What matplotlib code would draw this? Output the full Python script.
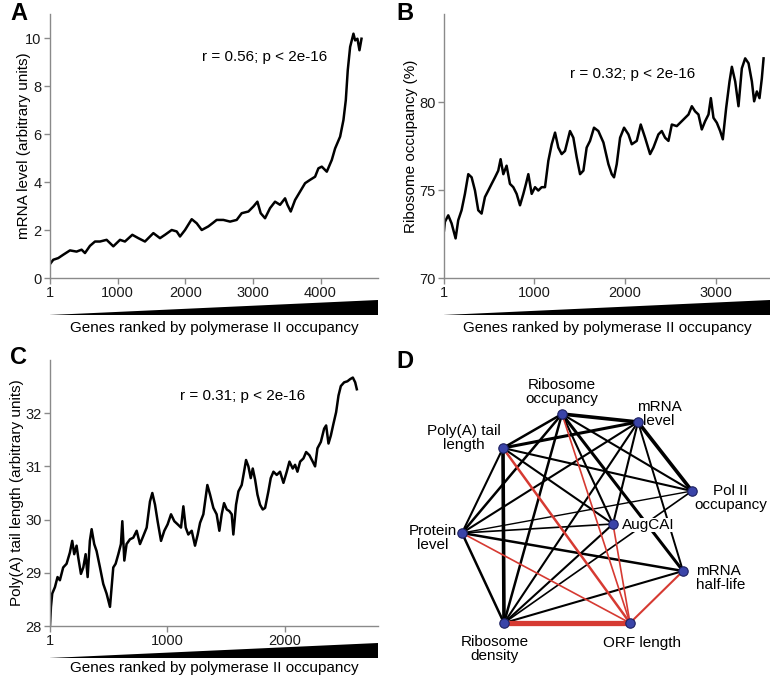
import matplotlib
matplotlib.use("Agg")
import matplotlib.pyplot as plt

plt.rcParams['font.family'] = ['Liberation Sans', 'DejaVu Sans']

# ---- data ----
# A: mRNA level vs genes ranked by Pol II occupancy
a_rank = [1, 49, 123, 197, 296, 394, 468, 518, 592, 666, 740, 838, 937, 1036, 1109,
          1218, 1307, 1405, 1529, 1627, 1701, 1800, 1874, 1923, 1997, 2096, 2170,
          2244, 2342, 2416, 2465, 2564, 2663, 2761, 2835, 2934, 3008, 3067, 3116,
          3180, 3254, 3328, 3402, 3476, 3511, 3560, 3624, 3698, 3772, 3846, 3920,
          3969, 4019, 4093, 4167, 4216, 4290, 4339, 4374, 4403, 4438, 4487, 4512,
          4546, 4576, 4606]
a_mrna = [0.58, 0.76, 0.83, 0.97, 1.15, 1.10, 1.18, 1.04, 1.34, 1.52, 1.52, 1.59, 1.32,
          1.59, 1.52, 1.80, 1.66, 1.52, 1.87, 1.66, 1.80, 2.00, 1.94, 1.73, 2.00, 2.45,
          2.28, 2.00, 2.15, 2.31, 2.42, 2.42, 2.35, 2.42, 2.70, 2.77, 2.98, 3.18, 2.70,
          2.49, 2.91, 3.18, 3.05, 3.32, 3.05, 2.77, 3.25, 3.60, 3.95, 4.09, 4.22, 4.57,
          4.64, 4.43, 4.92, 5.40, 5.89, 6.58, 7.41, 8.66, 9.63, 10.18, 9.90, 9.97,
          9.49, 9.97]

# B: ribosome occupancy (%)
b_rank = [1, 11, 48, 85, 129, 158, 195, 232, 269, 306, 343, 379, 416, 453, 490, 527,
          564, 600, 626, 656, 692, 729, 766, 803, 840, 877, 906, 932, 969, 1006, 1042,
          1079, 1116, 1153, 1190, 1227, 1263, 1300, 1337, 1392, 1429, 1466, 1503, 1540,
          1576, 1613, 1657, 1705, 1761, 1816, 1853, 1878, 1908, 1945, 1989, 2037, 2074,
          2129, 2173, 2221, 2276, 2313, 2368, 2405, 2442, 2479, 2516, 2571, 2626, 2663,
          2700, 2737, 2773, 2810, 2847, 2884, 2921, 2947, 2976, 3013, 3050, 3079, 3116,
          3153, 3179, 3216, 3252, 3289, 3326, 3363, 3400, 3425, 3455, 3484, 3510, 3529]
b_occ = [72.7, 73.19, 73.56, 73.10, 72.25, 73.28, 73.85, 74.78, 75.90, 75.72, 74.97,
         73.85, 73.66, 74.60, 74.97, 75.35, 75.72, 76.10, 76.75, 75.90, 76.38, 75.35,
         75.16, 74.78, 74.13, 74.78, 75.35, 75.90, 74.78, 75.16, 74.97, 75.16, 75.16,
         76.66, 77.60, 78.26, 77.41, 77.04, 77.22, 78.35, 77.97, 76.85, 75.90, 76.10,
         77.41, 77.79, 78.54, 78.35, 77.70, 76.47, 75.90, 75.72, 76.47, 77.97, 78.54,
         78.16, 77.60, 77.79, 78.72, 77.97, 77.04, 77.41, 78.16, 78.35, 77.97, 77.79,
         78.72, 78.63, 78.91, 79.10, 79.29, 79.76, 79.47, 79.29, 78.44, 78.91, 79.29,
         80.22, 79.10, 78.82, 78.35, 77.88, 79.66, 81.16, 82.00, 81.16, 79.76, 81.91,
         82.48, 82.20, 81.16, 80.04, 80.60, 80.22, 81.35, 82.48]

# C: poly(A) tail length
c_rank = [1, 9, 20, 43, 65, 85, 113, 142, 170, 190, 207, 227, 241, 264, 284, 304, 321,
          340, 355, 377, 397, 426, 454, 482, 511, 525, 539, 559, 582, 604, 616, 633,
          652, 681, 709, 738, 766, 794, 823, 851, 871, 894, 916, 945, 973, 1001, 1030,
          1058, 1087, 1115, 1135, 1155, 1177, 1206, 1234, 1257, 1277, 1305, 1339, 1362,
          1390, 1418, 1441, 1461, 1481, 1504, 1526, 1546, 1560, 1583, 1603, 1631, 1651,
          1668, 1688, 1708, 1725, 1745, 1765, 1787, 1810, 1830, 1858, 1878, 1901, 1929,
          1957, 1986, 2014, 2037, 2065, 2085, 2105, 2128, 2156, 2179, 2207, 2235, 2255,
          2275, 2304, 2332, 2349, 2369, 2389, 2411, 2434, 2454, 2474, 2502, 2530, 2553,
          2576, 2596, 2610]
c_tail = [28.02, 28.36, 28.61, 28.73, 28.92, 28.86, 29.10, 29.17, 29.38, 29.60, 29.35,
          29.51, 29.29, 28.98, 29.10, 29.35, 28.92, 29.60, 29.82, 29.54, 29.41, 29.10,
          28.79, 28.61, 28.36, 28.73, 29.10, 29.17, 29.35, 29.54, 29.97, 29.23, 29.54,
          29.63, 29.66, 29.79, 29.54, 29.69, 29.85, 30.34, 30.50, 30.28, 29.97, 29.60,
          29.79, 29.91, 30.10, 29.97, 29.91, 29.85, 30.25, 29.85, 29.72, 29.79, 29.51,
          29.72, 29.94, 30.10, 30.65, 30.47, 30.22, 30.10, 29.79, 30.10, 30.31, 30.19,
          30.16, 30.10, 29.72, 30.28, 30.53, 30.65, 30.90, 31.12, 31.00, 30.78, 30.96,
          30.75, 30.47, 30.28, 30.19, 30.22, 30.53, 30.78, 30.90, 30.84, 30.90, 30.69,
          30.90, 31.09, 30.96, 31.03, 30.90, 31.09, 31.15, 31.27, 31.21, 31.09, 31.00,
          31.34, 31.46, 31.71, 31.77, 31.43, 31.58, 31.80, 32.02, 32.33, 32.51, 32.58,
          32.60, 32.64, 32.67, 32.58, 32.45]

# D: correlation network
node_names = ['RO', 'ML', 'PA', 'P2', 'AC', 'PL', 'HL', 'RD', 'OL']
node_x = [562, 638, 503, 692, 613, 462, 683, 504, 630]
node_y = [414, 422, 448, 491, 524, 533, 571, 623, 623]
edges_pos = [('RO', 'ML', 2.6), ('RO', 'PA', 1.8), ('RO', 'PL', 1.8), ('RO', 'RD', 1.8),
             ('RO', 'P2', 1.5), ('RO', 'HL', 2.2), ('RO', 'AC', 1.5), ('ML', 'PA', 2.2),
             ('ML', 'P2', 2.6), ('ML', 'HL', 1.4), ('ML', 'PL', 1.5), ('ML', 'RD', 1.5),
             ('ML', 'AC', 1.5), ('PA', 'P2', 1.5), ('PA', 'PL', 1.5), ('PA', 'RD', 2.6),
             ('PA', 'AC', 1.5), ('PL', 'P2', 1.0), ('PL', 'AC', 1.2), ('PL', 'HL', 1.8),
             ('PL', 'RD', 1.8), ('RD', 'P2', 1.2), ('RD', 'HL', 1.5), ('RD', 'AC', 1.5)]
edges_neg = [('RO', 'OL', 1.2), ('PA', 'OL', 1.8), ('PL', 'OL', 1.2), ('RD', 'OL', 3.8),
             ('HL', 'OL', 1.5), ('AC', 'OL', 1.2)]

W, H = 770, 680
fig = plt.figure(figsize=(W / 100, H / 100), dpi=100)

GRAY = '#8a8a8a'


def px_axes(x0, y_top, x1, y_bot):
    return fig.add_axes([x0 / W, (H - y_bot) / H, (x1 - x0) / W, (y_bot - y_top) / H])


def style(ax, label_x):
    for s in ['top', 'right']:
        ax.spines[s].set_visible(False)
    for s in ['left', 'bottom']:
        ax.spines[s].set_color(GRAY)
        ax.spines[s].set_linewidth(1.0)
    ax.tick_params(colors=GRAY, labelcolor='#1a1a1a', labelsize=10.5, length=4, width=1, pad=2)
    ax.yaxis.set_label_coords(label_x, 0.5)


def wedge(x0, x1, y_top, y_bot, text_y):
    wx = px_axes(x0, y_top, x1, y_bot)
    wx.fill([0, 1, 1], [0, 0, 1], color='black', lw=0)
    wx.plot([0, 1], [0, 0], color='black', lw=0.8)
    wx.set_xlim(0, 1)
    wx.set_ylim(0, 1)
    wx.axis('off')
    fig.text((x0 + x1) / 2 / W, (H - text_y) / H, 'Genes ranked by polymerase II occupancy',
             ha='center', va='center', fontsize=11)


# Panel A
axA = px_axes(50, 14, 378, 278)
axA.plot(a_rank, a_mrna, color='black', lw=1.8)
axA.set_xlim(1, 4850)
axA.set_ylim(0, 11)
axA.set_xticks([1, 1000, 2000, 3000, 4000])
axA.set_yticks([0, 2, 4, 6, 8, 10])
axA.set_ylabel('mRNA level (arbitrary units)', fontsize=11)
axA.text(2250, 9.2, 'r = 0.56; p < 2e-16', fontsize=11, va='center')
style(axA, -0.058)
wedge(50, 378, 300, 315, 328)
fig.text(10 / W, (H - 14) / H, 'A', fontsize=17, fontweight='bold', va='center')

# Panel B
axB = px_axes(444, 14, 770, 278)
axB.plot(b_rank, b_occ, color='black', lw=1.8)
axB.set_xlim(1, 3600)
axB.set_ylim(70, 85)
axB.set_xticks([1, 1000, 2000, 3000])
axB.set_yticks([70, 75, 80])
axB.set_ylabel('Ribosome occupancy (%)', fontsize=11)
axB.text(1390, 81.6, 'r = 0.32; p < 2e-16', fontsize=11, va='center')
style(axB, -0.08)
wedge(444, 770, 300, 315, 328)
fig.text(396 / W, (H - 14) / H, 'B', fontsize=17, fontweight='bold', va='center')

# Panel C
axC = px_axes(50, 360, 378, 626)
axC.plot(c_rank, c_tail, color='black', lw=1.8)
axC.set_xlim(1, 2790)
axC.set_ylim(28, 33)
axC.set_xticks([1, 1000, 2000])
axC.set_yticks([28, 29, 30, 31, 32])
axC.set_ylabel('Poly(A) tail length (arbitrary units)', fontsize=11)
axC.text(1106, 32.33, 'r = 0.31; p < 2e-16', fontsize=11, va='center')
style(axC, -0.078)
wedge(50, 378, 643, 658, 668)
fig.text(10 / W, (H - 358) / H, 'C', fontsize=17, fontweight='bold', va='center')

# Panel D
axD = px_axes(390, 330, 770, 680)
axD.set_xlim(390, 770)
axD.set_ylim(680, 330)
axD.axis('off')
pos = {n: (x, y) for n, x, y in zip(node_names, node_x, node_y)}
for a, b, w in edges_pos:
    axD.plot([pos[a][0], pos[b][0]], [pos[a][1], pos[b][1]], color='black', lw=w,
             solid_capstyle='round', zorder=1)
for a, b, w in edges_neg:
    axD.plot([pos[a][0], pos[b][0]], [pos[a][1], pos[b][1]], color='#d63a32', lw=w,
             solid_capstyle='butt', zorder=1.5)
axD.scatter(node_x, node_y, s=46, color='#3a44a8', edgecolor='#1c2060', lw=0.8, zorder=3)

lab = dict(fontsize=11, va='center', linespacing=1.05)
axD.text(562, 392, 'Ribosome\noccupancy', ha='center', **lab)
axD.text(659, 414, 'mRNA\nlevel', ha='center', **lab)
axD.text(464, 438, 'Poly(A) tail\nlength', ha='center', **lab)
axD.text(767, 498, 'Pol II\noccupancy', ha='right', multialignment='center', **lab)
axD.text(622, 525, 'AugCAI', ha='left', zorder=2,
         bbox=dict(facecolor='white', edgecolor='none', pad=0.3), **lab)
axD.text(433, 538, 'Protein\nlevel', ha='center', **lab)
axD.text(696, 578, 'mRNA\nhalf-life', ha='left', **lab)
axD.text(495, 649, 'Ribosome\ndensity', ha='center', **lab)
axD.text(642, 643, 'ORF length', ha='center', **lab)
fig.text(396 / W, (H - 362) / H, 'D', fontsize=17, fontweight='bold', va='center')

fig.savefig('out.png', dpi=100, facecolor='white')
